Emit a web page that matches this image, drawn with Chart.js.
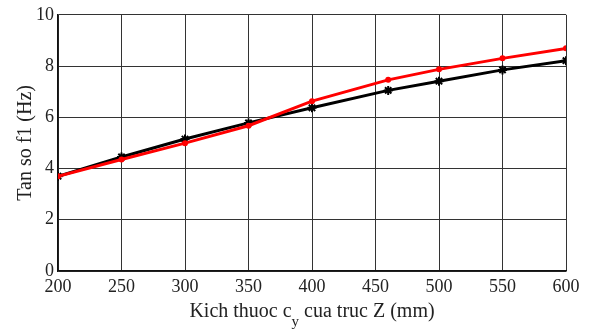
<!DOCTYPE html>
<html>
<head>
<meta charset="utf-8">
<script src="https://cdn.jsdelivr.net/npm/chart.js@4"></script>
<style>
  html, body { margin: 0; padding: 0; background: #fff; }
  #wrap { width: 590px; height: 332px; }
</style>
</head>
<body>
<div id="wrap"><canvas id="chart"></canvas></div>
<script>
// kich thuoc c_y (mm)
const sizes = [200, 250, 300, 350, 400, 460, 500, 550, 600];
const freqBlack = [3.7, 4.45, 5.15, 5.78, 6.37, 7.05, 7.41, 7.85, 8.21];
const freqRed = [3.7, 4.35, 4.99, 5.67, 6.63, 7.46, 7.87, 8.3, 8.69];
const xTicks = [200, 250, 300, 350, 400, 450, 500, 550, 600];
const yTicks = [0, 2, 4, 6, 8, 10];

const serif = '"Liberation Serif", "DejaVu Serif", serif';

function toPoints(xs, ys) {
    return xs.map((x, i) => ({ x: x, y: ys[i] }));
}

// draws the axis titles (x title has a subscript y)
const axisTitles = {
    id: 'axisTitles',
    afterDraw(chart) {
        const ctx = chart.ctx;
        const area = chart.chartArea;
        ctx.save();
        ctx.fillStyle = '#222';
        ctx.textBaseline = 'alphabetic';

        // x title
        let part1 = 'Kich thuoc c';
        let sub = 'y';
        let part2 = ' cua truc Z (mm)';
        ctx.font = '20px ' + serif;
        let w1 = ctx.measureText(part1).width;
        let w3 = ctx.measureText(part2).width;
        ctx.font = '15px ' + serif;
        let w2 = ctx.measureText(sub).width;
        let total = w1 + w2 + w3;
        let x0 = (area.left + area.right) / 2 - total / 2;
        let base = 317;
        ctx.textAlign = 'left';
        ctx.font = '20px ' + serif;
        ctx.fillText(part1, x0, base);
        ctx.font = '15px ' + serif;
        ctx.fillText(sub, x0 + w1, base + 9);
        ctx.font = '20px ' + serif;
        ctx.fillText(part2, x0 + w1 + w2, base);

        // y title
        ctx.translate(31, (area.top + area.bottom) / 2);
        ctx.rotate(-Math.PI / 2);
        ctx.textAlign = 'center';
        ctx.font = '20px ' + serif;
        ctx.fillText('Tan so f1 (Hz)', 0, 0);
        ctx.restore();
    }
};

const ctx = document.getElementById('chart').getContext('2d');
new Chart(ctx, {
    type: 'line',
    data: {
        datasets: [
            {
                data: toPoints(sizes, freqRed),
                borderColor: '#ff0000',
                backgroundColor: '#ff0000',
                borderWidth: 3,
                pointStyle: 'circle',
                pointRadius: 3,
                pointBorderWidth: 0,
                tension: 0
            },
            {
                data: toPoints(sizes, freqBlack),
                borderColor: '#000000',
                backgroundColor: '#000000',
                borderWidth: 3,
                pointStyle: 'star',
                pointRadius: 4.5,
                pointBorderWidth: 2,
                tension: 0
            }
        ]
    },
    options: {
        responsive: true,
        maintainAspectRatio: false,
        animation: false,
        events: [],
        layout: { padding: { top: 13, right: 24, left: 0, bottom: 0 } },
        plugins: {
            legend: { display: false },
            tooltip: { enabled: false }
        },
        scales: {
            x: {
                type: 'linear',
                min: 200,
                max: 600,
                afterBuildTicks: (scale) => { scale.ticks = xTicks.map(v => ({ value: v })); },
                afterFit: (scale) => { scale.height = 61; },
                ticks: {
                    color: '#222',
                    font: { family: serif, size: 18 },
                    padding: 5,
                    maxRotation: 0
                },
                grid: { color: '#333', lineWidth: 1, drawTicks: false },
                border: { color: '#111', width: 1.5 }
            },
            y: {
                min: 0,
                max: 10,
                afterBuildTicks: (scale) => { scale.ticks = yTicks.map(v => ({ value: v })); },
                afterFit: (scale) => { scale.width = 58; },
                ticks: {
                    color: '#222',
                    font: { family: serif, size: 18 },
                    padding: 4
                },
                grid: { color: '#333', lineWidth: 1, drawTicks: false },
                border: { color: '#111', width: 1.5 }
            }
        }
    },
    plugins: [axisTitles]
});
</script>
</body>
</html>
